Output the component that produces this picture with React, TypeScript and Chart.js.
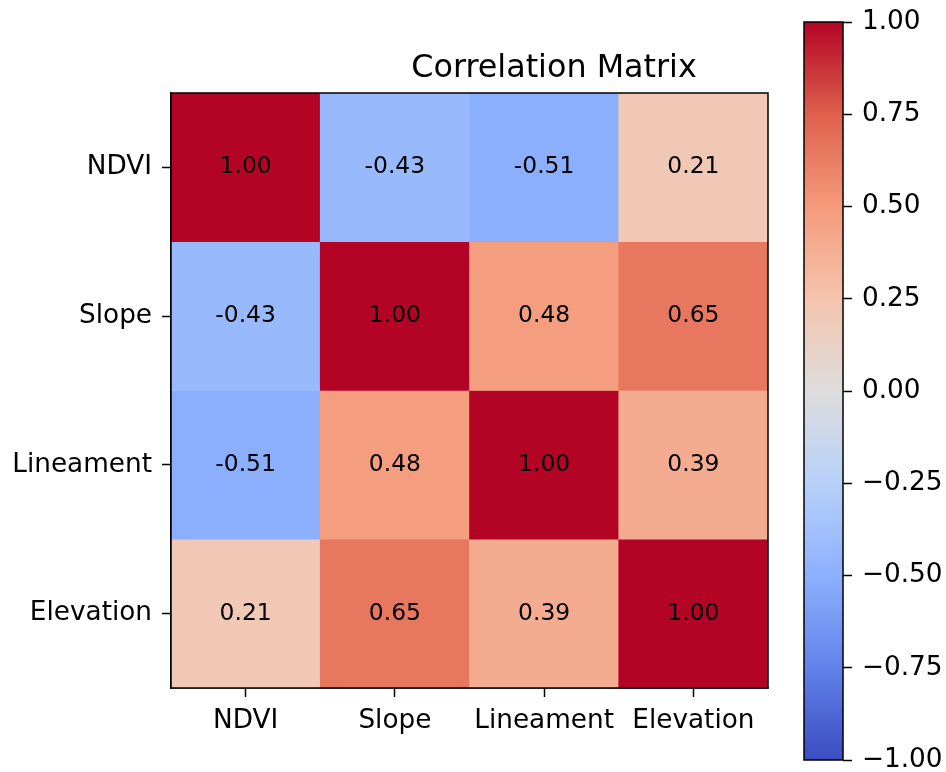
import React, { useEffect, useRef } from "react";
import { Chart, registerables } from "chart.js";

Chart.register(...registerables);

const variables = ["NDVI", "Slope", "Lineament", "Elevation"];
const ndviRow = [1.0, -0.43, -0.51, 0.21];
const slopeRow = [-0.43, 1.0, 0.48, 0.65];
const lineamentRow = [-0.51, 0.48, 1.0, 0.39];
const elevationRow = [0.21, 0.65, 0.39, 1.0];
const matrixRows = [ndviRow, slopeRow, lineamentRow, elevationRow];
const chartTitle = "Correlation Matrix";
const colorbarTicks = [-1, -0.75, -0.5, -0.25, 0, 0.25, 0.5, 0.75, 1];

// matplotlib "coolwarm" control colours
const coolwarmStops: [number, number[]][] = [
  [0.0, [59, 76, 192]],
  [0.125, [98, 130, 234]],
  [0.25, [141, 176, 254]],
  [0.375, [184, 208, 249]],
  [0.5, [221, 221, 221]],
  [0.625, [245, 196, 173]],
  [0.75, [244, 154, 123]],
  [0.875, [222, 96, 77]],
  [1.0, [180, 4, 38]],
];

function coolwarm(v: number): string {
  const t = Math.max(0, Math.min(1, (v + 1) / 2));
  for (let i = 0; i < coolwarmStops.length - 1; i++) {
    const [t0, c0] = coolwarmStops[i];
    const [t1, c1] = coolwarmStops[i + 1];
    if (t <= t1) {
      const f = (t - t0) / (t1 - t0);
      const c = c0.map((a, k) => Math.round(a + (c1[k] - a) * f));
      return `rgb(${c[0]},${c[1]},${c[2]})`;
    }
  }
  const c = coolwarmStops[coolwarmStops.length - 1][1];
  return `rgb(${c[0]},${c[1]},${c[2]})`;
}

const FONT = "'DejaVu Sans', sans-serif";
const TICK_SIZE = 26.3;

const framePlugin = {
  id: "frame",
  afterDraw(chart: any) {
    const { ctx, chartArea } = chart;
    ctx.save();
    ctx.strokeStyle = "#000";
    ctx.lineWidth = 1.5;
    ctx.strokeRect(chartArea.left, chartArea.top, chartArea.right - chartArea.left, chartArea.bottom - chartArea.top);
    ctx.restore();
  },
};

const annotatePlugin = {
  id: "annotate",
  afterDatasetsDraw(chart: any) {
    const { ctx } = chart;
    ctx.save();
    ctx.fillStyle = "#000";
    ctx.font = `23.4px ${FONT}`;
    ctx.textAlign = "center";
    ctx.textBaseline = "middle";
    chart.data.datasets.forEach((ds: any, di: number) => {
      const meta = chart.getDatasetMeta(di);
      meta.data.forEach((el: any, i: number) => {
        const v = ds.values[i];
        ctx.fillText(v.toFixed(2), el.x, (el.y + el.base) / 2);
      });
    });
    ctx.restore();
  },
};

const titlePlugin = {
  id: "customTitle",
  afterDraw(chart: any) {
    const { ctx } = chart;
    ctx.save();
    ctx.fillStyle = "#000";
    ctx.font = `31.8px ${FONT}`;
    ctx.textAlign = "center";
    ctx.textBaseline = "alphabetic";
    ctx.fillText(chartTitle, 554, 77);
    ctx.restore();
  },
};

function gradientFor(chart: any) {
  const { ctx, chartArea } = chart;
  if (!chartArea) return "#ddd";
  const g = ctx.createLinearGradient(0, chartArea.bottom, 0, chartArea.top);
  coolwarmStops.forEach(([t, c]) => g.addColorStop(t, `rgb(${c[0]},${c[1]},${c[2]})`));
  return g;
}

export default function App() {
  const mainRef = useRef<HTMLCanvasElement>(null);
  const cbRef = useRef<HTMLCanvasElement>(null);

  useEffect(() => {
    Chart.defaults.font.family = FONT;
    Chart.defaults.color = "#000";

    const main = new Chart(mainRef.current!, {
      type: "bar",
      data: {
        labels: variables,
        datasets: matrixRows.map((row, r) => ({
          label: variables[r],
          data: row.map(() => [r, r + 1]),
          values: row,
          backgroundColor: row.map((v) => coolwarm(v)),
          borderWidth: 0,
          grouped: false,
          barPercentage: 1,
          categoryPercentage: 1,
        })) as any,
      },
      options: {
        animation: false,
        responsive: false,
        devicePixelRatio: 1,
        layout: { padding: { left: 0, top: 93, right: 178, bottom: 0 } },
        plugins: { legend: { display: false }, tooltip: { enabled: false }, title: { display: false } },
        scales: {
          x: {
            type: "category",
            offset: true,
            grid: { offset: false, drawOnChartArea: false, drawTicks: true, tickLength: 9, tickColor: "#000", tickWidth: 1.5 },
            border: { display: true, color: "#000", width: 1.5 },
            ticks: { font: { size: TICK_SIZE, family: FONT }, color: "#000", padding: 8, maxRotation: 0 },
            afterFit: (s: any) => { s.height = 84; s.paddingLeft = 0; s.paddingRight = 0; },
          },
          y: {
            type: "linear",
            min: 0,
            max: 4,
            reverse: true,
            afterBuildTicks: (s: any) => { s.ticks = [0.5, 1.5, 2.5, 3.5].map((v) => ({ value: v })); },
            grid: { drawOnChartArea: false, drawTicks: true, tickLength: 9, tickColor: "#000", tickWidth: 1.5 },
            border: { display: true, color: "#000", width: 1.5 },
            ticks: { font: { size: TICK_SIZE, family: FONT }, color: "#000", padding: 10, callback: (v: any) => variables[Math.floor(Number(v))] },
            afterFit: (s: any) => { s.width = 171; s.paddingTop = 0; s.paddingBottom = 0; },
          },
        },
      } as any,
      plugins: [annotatePlugin, framePlugin, titlePlugin],
    });

    const cb = new Chart(cbRef.current!, {
      type: "bar",
      data: {
        labels: ["scale"],
        datasets: [
          {
            data: [[-1, 1]],
            backgroundColor: (c: any) => gradientFor(c.chart),
            borderWidth: 0,
            barPercentage: 1,
            categoryPercentage: 1,
          } as any,
        ],
      },
      options: {
        animation: false,
        responsive: false,
        devicePixelRatio: 1,
        layout: { padding: { left: 14, top: 22, right: 0, bottom: 12 } },
        plugins: { legend: { display: false }, tooltip: { enabled: false } },
        scales: {
          x: { type: "category", display: false },
          y: {
            type: "linear",
            position: "right",
            min: -1,
            max: 1,
            afterBuildTicks: (s: any) => { s.ticks = colorbarTicks.map((v) => ({ value: v })); },
            grid: { drawOnChartArea: false, drawTicks: true, tickLength: 9, tickColor: "#000", tickWidth: 1.5 },
            border: { display: false },
            ticks: {
              font: { size: TICK_SIZE, family: FONT },
              color: "#000",
              padding: 10,
              callback: (v: any) => {
                const n = Number(v);
                const s = Math.abs(n).toFixed(2);
                return n < 0 ? "\u2212" + s : s;
              },
            },
            afterFit: (s: any) => { s.width = 103; s.paddingTop = 0; s.paddingBottom = 0; },
          },
        },
      } as any,
      plugins: [framePlugin],
    });

    return () => {
      main.destroy();
      cb.destroy();
    };
  }, []);

  return (
    <div style={{ position: "absolute", left: 0, top: 0, width: 946, height: 772, background: "#fff" }}>
      <canvas ref={mainRef} width={946} height={772} style={{ position: "absolute", left: 0, top: 0 }} />
      <canvas ref={cbRef} width={156} height={772} style={{ position: "absolute", left: 790, top: 0 }} />
    </div>
  );
}
